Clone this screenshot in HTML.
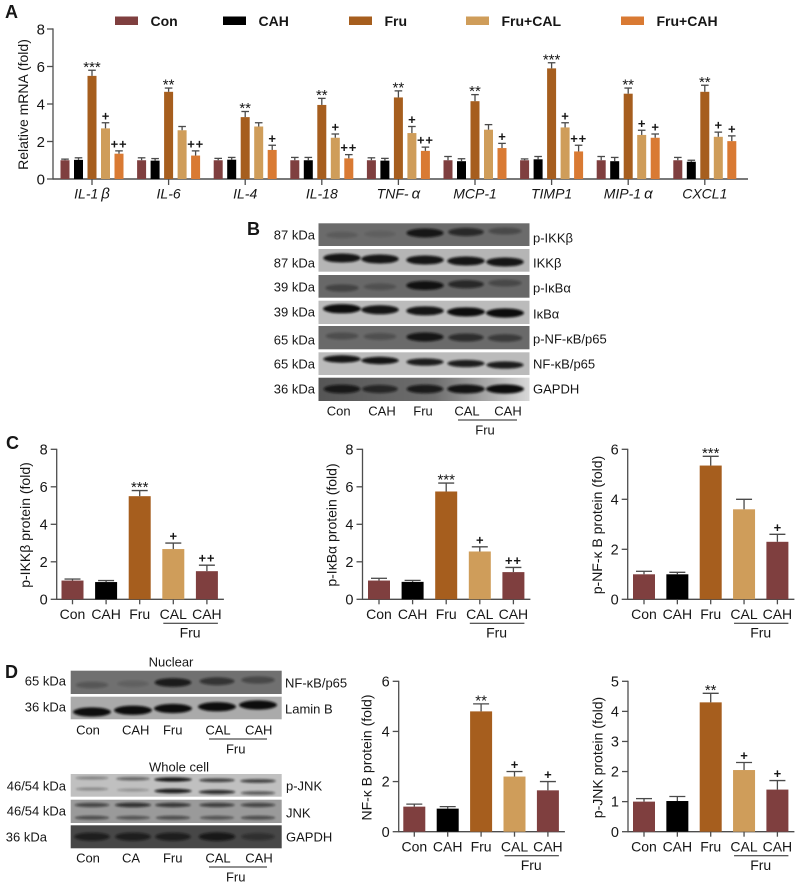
<!DOCTYPE html>
<html lang="en">
<head>
<meta charset="utf-8">
<title>Relative mRNA and protein expression figure</title>
<style>
html,body{margin:0;padding:0;background:#fff;width:798px;height:885px;overflow:hidden}
svg{display:block;font-family:"Liberation Sans",Arial,sans-serif}
text{fill:#161616}
</style>
</head>
<body>
<svg id="fig" xmlns="http://www.w3.org/2000/svg" width="798" height="885" viewBox="0 0 798 885">
  <defs>
    <filter id="bandBlur" x="-30%" y="-80%" width="160%" height="260%"><feGaussianBlur stdDeviation="1.1"/></filter>
    <linearGradient id="gapdhB" x1="0" x2="1" y1="0" y2="0">
      <stop offset="0" stop-color="#555"/><stop offset="0.55" stop-color="#6e6e6e"/><stop offset="0.8" stop-color="#a8a8a8"/><stop offset="1" stop-color="#d8d8d8"/>
    </linearGradient>
  </defs>
  <rect width="798" height="885" fill="#fff"/>
</svg>
<script>
// ---------- Panel A data ----------
const genes = ['IL-1|β', 'IL-6', 'IL-4', 'IL-18', 'TNF-|α', 'MCP-1', 'TIMP1', 'MIP-1|α', 'CXCL1'];
const legendLabels = ['Con', 'CAH', 'Fru', 'Fru+CAL', 'Fru+CAH'];
const aTicks = [0, 2, 4, 6, 8];
const aCon = [1, 1, 1, 1, 1, 1, 1, 1, 1];
const aCah = [1.02, 0.98, 1.03, 1, 0.98, 0.95, 1.05, 0.95, 0.92];
const aFru = [5.5, 4.65, 3.3, 3.95, 4.35, 4.15, 5.9, 4.55, 4.65];
const aCal = [2.7, 2.6, 2.8, 2.2, 2.45, 2.63, 2.75, 2.35, 2.25];
const aFruCah = [1.35, 1.25, 1.55, 1.1, 1.5, 1.65, 1.47, 2.2, 2.02];
const aConErr = [0.06, 0.13, 0.1, 0.15, 0.13, 0.2, 0.07, 0.2, 0.15];
const aCahErr = [0.11, 0.11, 0.12, 0.15, 0.12, 0.13, 0.15, 0.2, 0.08];
const aFruErr = [0.3, 0.2, 0.3, 0.35, 0.35, 0.35, 0.3, 0.3, 0.35];
const aCalErr = [0.3, 0.2, 0.2, 0.2, 0.35, 0.27, 0.25, 0.25, 0.25];
const aFruCahErr = [0.15, 0.25, 0.25, 0.2, 0.2, 0.25, 0.33, 0.2, 0.28];
const aFruSig = ['***', '**', '**', '**', '**', '**', '***', '**', '**'];
const aCalSig = ['+', '', '', '+', '+', '', '+', '+', '+'];
const aFruCahSig = ['++', '++', '+', '++', '++', '+', '++', '+', '+'];

// ---------- Small bar chart data ----------
const groupLabels = ['Con', 'CAH', 'Fru', 'CAL', 'CAH'];
const ikkValues = [1, 0.92, 5.5, 2.68, 1.5];
const ikkErrors = [0.08, 0.08, 0.3, 0.32, 0.32];
const ikkSig = ['', '', '***', '+', '++'];
const ikkTicks = [0, 2, 4, 6, 8];
const ikbValues = [1, 0.93, 5.75, 2.55, 1.45];
const ikbErrors = [0.12, 0.08, 0.45, 0.25, 0.25];
const ikbSig = ['', '', '***', '+', '++'];
const ikbTicks = [0, 2, 4, 6, 8];
const nfkbValues = [1, 1, 5.35, 3.6, 2.3];
const nfkbErrors = [0.12, 0.08, 0.37, 0.4, 0.3];
const nfkbSig = ['', '', '***', '', '+'];
const nfkbTicks = [0, 2, 4, 6];
const nuclearValues = [1, 0.92, 4.8, 2.2, 1.65];
const nuclearErrors = [0.1, 0.08, 0.3, 0.2, 0.35];
const nuclearSig = ['', '', '**', '+', '+'];
const nuclearTicks = [0, 2, 4, 6];
const jnkValues = [1, 1.02, 4.3, 2.05, 1.4];
const jnkErrors = [0.1, 0.15, 0.3, 0.25, 0.3];
const jnkSig = ['', '', '**', '+', '+'];
const jnkTicks = [0, 1, 2, 3, 4, 5];

// ---------- Blot band intensities, one value per lane ----------
const bandPIkk = [0.16, 0.12, 0.9, 0.7, 0.35];
const bandIkk = [0.95, 0.95, 0.95, 0.95, 0.95];
const bandPIkb = [0.4, 0.25, 0.95, 0.7, 0.35];
const bandIkb = [1, 0.95, 0.95, 1, 1];
const bandPNf = [0.3, 0.28, 0.9, 0.65, 0.5];
const bandNf = [0.95, 0.95, 0.9, 0.9, 0.9];
const bandGapdhB = [0.85, 0.7, 0.85, 0.95, 1];
const bandNuclearNf = [0.25, 0.15, 0.85, 0.6, 0.4];
const bandLamin = [1, 1, 1, 1, 1];
const bandPJnkUpper = [0.35, 0.5, 0.95, 0.7, 0.7];
const bandPJnkLower = [0.3, 0.25, 0.9, 0.8, 0.55];
const bandJnkUpper = [0.6, 0.75, 0.7, 0.65, 0.6];
const bandJnkLower = [0.55, 0.5, 0.55, 0.5, 0.55];
const bandGapdhD = [0.7, 0.7, 0.7, 0.8, 0.4];

const COL = {con: '#7f3f3f', cah: '#000000', fru: '#a65e1e', cal: '#cf9d5a', fc: '#d97a33'};
const AXIS = '#4d4d4d';
const ERR = '#4a4a4a';
const svgNS = 'http://www.w3.org/2000/svg';
const root = document.getElementById('fig');

function mk(tag, parent, name, props) {
  const el = document.createElementNS(svgNS, tag);
  
  
  for (const k in props) el.setAttribute(k, props[k]);
  parent.appendChild(el);
  return el;
}
function group(parent, name) { return mk('g', parent, name, {}); }
function line(p, name, x1, y1, x2, y2, color, w) {
  return mk('line', p, name, {x1, y1, x2, y2, stroke: color, 'stroke-width': w});
}
function txt(p, name, x, y, s, size, anchor, extra) {
  const props = Object.assign({x, y, 'font-size': size, 'text-anchor': anchor || 'middle', dy: '0.35em'}, extra || {});
  const t = mk('text', p, name, props);
  t.textContent = s;
  return t;
}
function slug(s) { return s.toLowerCase().replace(/[^a-z0-9]+/g, '-').replace(/^-|-$/g, ''); }

function drawSig(p, name, x, errTopY, s, size) {
  if (!s) return;
  if (s[0] === '*') {
    const t = mk('text', p, name, {x, y: errTopY + 1.5, 'font-size': 15, 'text-anchor': 'middle'});
    t.textContent = s;
  } else {
    const t = mk('text', p, name, {x, y: errTopY - 2.5, 'font-size': size || 13, 'text-anchor': 'middle', 'letter-spacing': s.length > 1 ? 0.8 : 0, 'font-weight': 'bold'});
    t.textContent = s;
  }
}

function drawBar(p, name, x, w, val, err, y, color, cap) {
  mk('rect', p, name, {x: x - w / 2, y: y(val), width: w, height: y(0) - y(val), fill: color});
  const top = y(val + err);
  line(p, name + '-error', x, y(val), x, top, ERR, 1.3);
  line(p, name + '-error-cap', x - cap, top, x + cap, top, ERR, 1.3);
  return top;
}

function drawYAxis(p, x, y, ticks, size, gap) {
  line(p, 'y-axis-line', x, y(ticks[ticks.length - 1]) - 0.6, x, y(0) + 0.6, AXIS, 1.3);
  ticks.forEach(function (t) {
    line(p, 'y-tick-' + t, x - 6, y(t), x, y(t), AXIS, 1.3);
    txt(p, 'y-tick-label-' + t, x - gap, y(t), String(t), size, 'end');
  });
}

// ---------- Panel A ----------
function drawPanelA() {
  const g = group(root, 'mrna-chart');
  const y0 = 179, yTop = 29, max = 8;
  const y = function (v) { return y0 - (y0 - yTop) * v / max; };
  const firstCenter = 92, spacing = 76.6, barStep = 13.5, barW = 9;
  const xGroup = function (i) { return firstCenter + spacing * i; };
  const series = [
    {n: 'con', c: COL.con, v: aCon, e: aConErr, s: null},
    {n: 'cah', c: COL.cah, v: aCah, e: aCahErr, s: null},
    {n: 'fru', c: COL.fru, v: aFru, e: aFruErr, s: aFruSig},
    {n: 'fru-cal', c: COL.cal, v: aCal, e: aCalErr, s: aCalSig},
    {n: 'fru-cah', c: COL.fc, v: aFruCah, e: aFruCahErr, s: aFruCahSig}
  ];
  drawYAxis(g, 53, y, aTicks, 15, 8);
  line(g, 'x-axis-line', 53, y0, 748, y0, AXIS, 1.5);
  txt(g, 'y-axis-title', 23, 104.5, 'Relative mRNA (fold)', 14, 'middle', {transform: 'rotate(-90 23 104.5)'});
  genes.forEach(function (gene, i) {
    const cx = xGroup(i);
    const parts = gene.split('|');
    line(g, 'x-tick-' + (i + 1), cx, y0, cx, y0 + 6, AXIS, 1.3);
    const t = txt(g, 'x-label-' + (i + 1), cx, 193.5, parts[0], 14, 'middle', {'font-style': 'italic'});
    if (parts[1]) {
      const sp = mk('tspan', t, 'x-label-greek-' + (i + 1), {dx: 3, 'font-size': 15});
      sp.textContent = parts[1];
    }
    series.forEach(function (s, k) {
      const bx = cx + (k - 2) * barStep;
      const top = drawBar(g, 'bar-' + s.n + '-' + (i + 1), bx, barW, s.v[i], s.e[i], y, s.c, 3.8);
      if (s.s) drawSig(g, 'sig-' + s.n + '-' + (i + 1), bx, top, s.s[i], 13);
    });
  });
  // legend
  const legendColors = [COL.con, COL.cah, COL.fru, COL.cal, COL.fc];
  const legendStarts = [115, 223, 349, 466, 621];
  legendLabels.forEach(function (lab, i) {
    const lg = group(g, 'legend-entry-' + slug(lab));
    mk('rect', lg, 'legend-swatch-' + slug(lab), {x: legendStarts[i], y: 16.5, width: 23, height: 8.5, fill: legendColors[i]});
    txt(lg, 'legend-label-' + slug(lab), legendStarts[i] + 35.5, 21, lab, 14, 'start', {'font-weight': 'bold'});
  });
}

// ---------- Small bar charts ----------
function drawSmallChart(cfg, values, errors, sig, ticks) {
  const g = group(root, cfg.name);
  const max = ticks[ticks.length - 1];
  const y = function (v) { return cfg.y0 - (cfg.y0 - cfg.yTop) * v / max; };
  const x = function (i) { return cfg.first + cfg.step * i; };
  const colors = [COL.con, COL.cah, COL.fru, COL.cal, COL.con];
  const right = x(4) + 17;
  drawYAxis(g, cfg.axisX, y, ticks, 14.5, 9);
  line(g, 'x-axis-line', cfg.axisX, cfg.y0, right, cfg.y0, AXIS, 1.3);
  txt(g, 'y-axis-title', cfg.titleX, cfg.titleY, cfg.title, 14, 'middle', {transform: 'rotate(-90 ' + cfg.titleX + ' ' + cfg.titleY + ')'});
  values.forEach(function (v, i) {
    const bx = x(i);
    const top = drawBar(g, 'bar-' + slug(groupLabels[i]) + '-' + (i + 1), bx, 22, v, errors[i], y, colors[i], 8);
    drawSig(g, 'sig-' + (i + 1), bx, top, sig[i], 13);
    line(g, 'x-tick-' + (i + 1), bx, cfg.y0, bx, cfg.y0 + 5, AXIS, 1.3);
    txt(g, 'x-label-' + slug(groupLabels[i]) + '-' + (i + 1), bx, cfg.y0 + 15, groupLabels[i], 14);
  });
  line(g, 'fru-group-line', x(3) - 10, cfg.y0 + 24, x(4) + 11, cfg.y0 + 24, '#222', 1);
  txt(g, 'fru-group-label', (x(3) + x(4)) / 2, cfg.y0 + 33.5, 'Fru', 14);
}

// ---------- Blots ----------
function drawBlot(p, name, x, y, w, h, bg, lanes, bandSets) {
  const g = group(p, name);
  mk('rect', g, name + '-background', {x, y, width: w, height: h, fill: bg});
  bandSets.forEach(function (b, si) {
    b.values.forEach(function (v, i) {
      const cy = b.yStart + (b.yEnd - b.yStart) * i / (b.values.length - 1);
      mk('ellipse', g, name + '-band-' + (si + 1) + '-' + (i + 1), {
        cx: lanes[i], cy, rx: (b.rx || 19) * (0.8 + 0.2 * v), ry: (b.ry || 3) + (b.grow === undefined ? 1.6 : b.grow) * v,
        fill: '#0c0c0c', opacity: v, filter: 'url(#bandBlur)'
      });
    });
  });
}

function drawPanelB() {
  const g = group(root, 'western-blot-b');
  const lanes = [342, 380, 425, 466, 505];
  const X = 318.5, W = 211;
  drawBlot(g, 'blot-p-ikkb', X, 223.3, W, 22.7, '#6b6b6b', lanes, [{values: bandPIkk, yStart: 235, yEnd: 231}]);
  drawBlot(g, 'blot-ikkb', X, 249, W, 22.7, '#b5b5b5', lanes, [{values: bandIkk, yStart: 258, yEnd: 262}]);
  drawBlot(g, 'blot-p-ikba', X, 275, W, 22.7, '#686868', lanes, [{values: bandPIkb, yStart: 288, yEnd: 283}]);
  drawBlot(g, 'blot-ikba', X, 300.7, W, 23.3, '#bbbbbb', lanes, [{values: bandIkb, yStart: 308.7, yEnd: 313}]);
  drawBlot(g, 'blot-p-nfkb', X, 326, W, 23.3, '#6a6a6a', lanes, [{values: bandPNf, yStart: 336, yEnd: 338}]);
  drawBlot(g, 'blot-nfkb', X, 352.3, W, 22.7, '#bbbbbb', lanes, [{values: bandNf, yStart: 359, yEnd: 365, ry: 2.2}]);
  drawBlot(g, 'blot-gapdh', X, 377.7, W, 23.3, 'url(#gapdhB)', lanes, [{values: bandGapdhB, yStart: 389, yEnd: 389}]);
  const leftTexts = ['87 kDa', '87 kDa', '39 kDa', '39 kDa', '65 kDa', '65 kDa', '36 kDa'];
  const leftYs = [235, 263, 287, 312, 340, 364, 389];
  const rightTexts = ['p-IKKβ', 'IKKβ', 'p-IκBα', 'IκBα', 'p-NF-κB/p65', 'NF-κB/p65', 'GAPDH'];
  const rightYs = [238, 263, 288, 314, 339, 364, 389];
  leftTexts.forEach(function (s, i) { txt(g, 'mw-label-' + (i + 1), 315, leftYs[i], s, 13, 'end'); });
  rightTexts.forEach(function (s, i) { txt(g, 'protein-label-' + slug(s), 533, rightYs[i], s, 13, 'start'); });
  const lx = [338.7, 382, 423, 467, 508];
  groupLabels.forEach(function (s, i) { txt(g, 'lane-label-' + (i + 1), lx[i], 411, s, 13); });
  line(g, 'fru-group-line', 458, 420, 517, 420, '#222', 1);
  txt(g, 'fru-group-label', 485, 430, 'Fru', 13);
}

function drawPanelD() {
  const g = group(root, 'western-blot-d');
  const lanes = [92, 133, 173, 217, 258];
  const X = 70.7, W = 211;
  drawBlot(g, 'blot-nuclear-nfkb', X, 670.7, W, 23.3, '#707070', lanes, [{values: bandNuclearNf, yStart: 685, yEnd: 680}]);
  drawBlot(g, 'blot-lamin-b', X, 696.7, W, 22.6, '#aaaaaa', lanes, [{values: bandLamin, yStart: 712, yEnd: 705}]);
  drawBlot(g, 'blot-p-jnk', X, 774, W, 22.7, '#c0c0c0', lanes, [
    {values: bandPJnkUpper, yStart: 778, yEnd: 781, ry: 1.2, grow: 1},
    {values: bandPJnkLower, yStart: 789, yEnd: 793, ry: 1.2, grow: 1.2}
  ]);
  drawBlot(g, 'blot-jnk', X, 799.7, W, 23.3, '#9a9a9a', lanes, [
    {values: bandJnkUpper, yStart: 805, yEnd: 805, ry: 1.5, grow: 1},
    {values: bandJnkLower, yStart: 817.7, yEnd: 817.7, ry: 1.5, grow: 0.8}
  ]);
  drawBlot(g, 'blot-whole-gapdh', X, 825.3, W, 23, '#474747', lanes, [{values: bandGapdhD, yStart: 836.7, yEnd: 836.7}]);
  txt(g, 'nuclear-title', 171, 661.7, 'Nuclear', 13);
  txt(g, 'whole-cell-title', 179, 766.7, 'Whole cell', 13);
  txt(g, 'mw-label-nuclear-nfkb', 66, 680.7, '65 kDa', 13, 'end');
  txt(g, 'mw-label-lamin', 66, 706.7, '36 kDa', 13, 'end');
  txt(g, 'mw-label-p-jnk', 66, 786, '46/54 kDa', 13, 'end');
  txt(g, 'mw-label-jnk', 66, 811, '46/54 kDa', 13, 'end');
  txt(g, 'mw-label-gapdh', 47, 837, '36 kDa', 13, 'end');
  txt(g, 'protein-label-nuclear-nfkb', 285, 682.7, 'NF-κB/p65', 13, 'start');
  txt(g, 'protein-label-lamin', 285, 708.7, 'Lamin B', 13, 'start');
  txt(g, 'protein-label-p-jnk', 286, 786, 'p-JNK', 13, 'start');
  txt(g, 'protein-label-jnk', 286, 813, 'JNK', 13, 'start');
  txt(g, 'protein-label-gapdh', 286, 837, 'GAPDH', 13, 'start');
  const top = ['Con', 'CAH', 'Fru', 'CAL', 'CAH'];
  const topX = [88, 135.7, 172.7, 218, 258.7];
  top.forEach(function (s, i) { txt(g, 'nuclear-lane-label-' + (i + 1), topX[i], 730, s, 13); });
  line(g, 'nuclear-fru-line', 209, 739, 267, 739, '#222', 1);
  txt(g, 'nuclear-fru-label', 235.7, 749, 'Fru', 13);
  const bottom = ['Con', 'CA', 'Fru', 'CAL', 'CAH'];
  const bottomX = [88, 131, 172.7, 218, 259];
  bottom.forEach(function (s, i) { txt(g, 'whole-lane-label-' + (i + 1), bottomX[i], 858, s, 13); });
  line(g, 'whole-fru-line', 209, 867, 267, 867, '#222', 1);
  txt(g, 'whole-fru-label', 235.7, 877, 'Fru', 13);
}

function drawPanelLetter(s, x, y) {
  const t = mk('text', root, 'panel-letter-' + s.toLowerCase(), {x, y, 'font-size': 18, 'font-weight': 'bold'});
  t.textContent = s;
}

drawPanelA();
drawPanelB();
drawSmallChart({name: 'p-ikkb-chart', y0: 599.3, yTop: 449.3, axisX: 56.7, first: 72.5, step: 33.6, titleX: 25, titleY: 525, title: 'p-IKKβ protein (fold)'}, ikkValues, ikkErrors, ikkSig, ikkTicks);
drawSmallChart({name: 'p-ikba-chart', y0: 599.3, yTop: 449.3, axisX: 362.5, first: 379, step: 33.6, titleX: 331.7, titleY: 525, title: 'p-IκBα  protein (fold)'}, ikbValues, ikbErrors, ikbSig, ikbTicks);
drawSmallChart({name: 'p-nfkb-chart', y0: 599.3, yTop: 449.3, axisX: 627.7, first: 644, step: 33.35, titleX: 597, titleY: 525, title: 'p-NF-κ B protein (fold)'}, nfkbValues, nfkbErrors, nfkbSig, nfkbTicks);
drawPanelD();
drawSmallChart({name: 'nuclear-nfkb-chart', y0: 831.7, yTop: 681.3, axisX: 398.7, first: 414.3, step: 33.4, titleX: 366.7, titleY: 757.5, title: 'NF-κ B protein (fold)'}, nuclearValues, nuclearErrors, nuclearSig, nuclearTicks);
drawSmallChart({name: 'p-jnk-chart', y0: 831.7, yTop: 681.3, axisX: 628, first: 644, step: 33.35, titleX: 597.7, titleY: 757.5, title: 'p-JNK protein (fold)'}, jnkValues, jnkErrors, jnkSig, jnkTicks);
drawPanelLetter('A', 5, 18);
drawPanelLetter('B', 247, 235);
drawPanelLetter('C', 6, 449);
drawPanelLetter('D', 5, 678);
</script>
</body>
</html>
